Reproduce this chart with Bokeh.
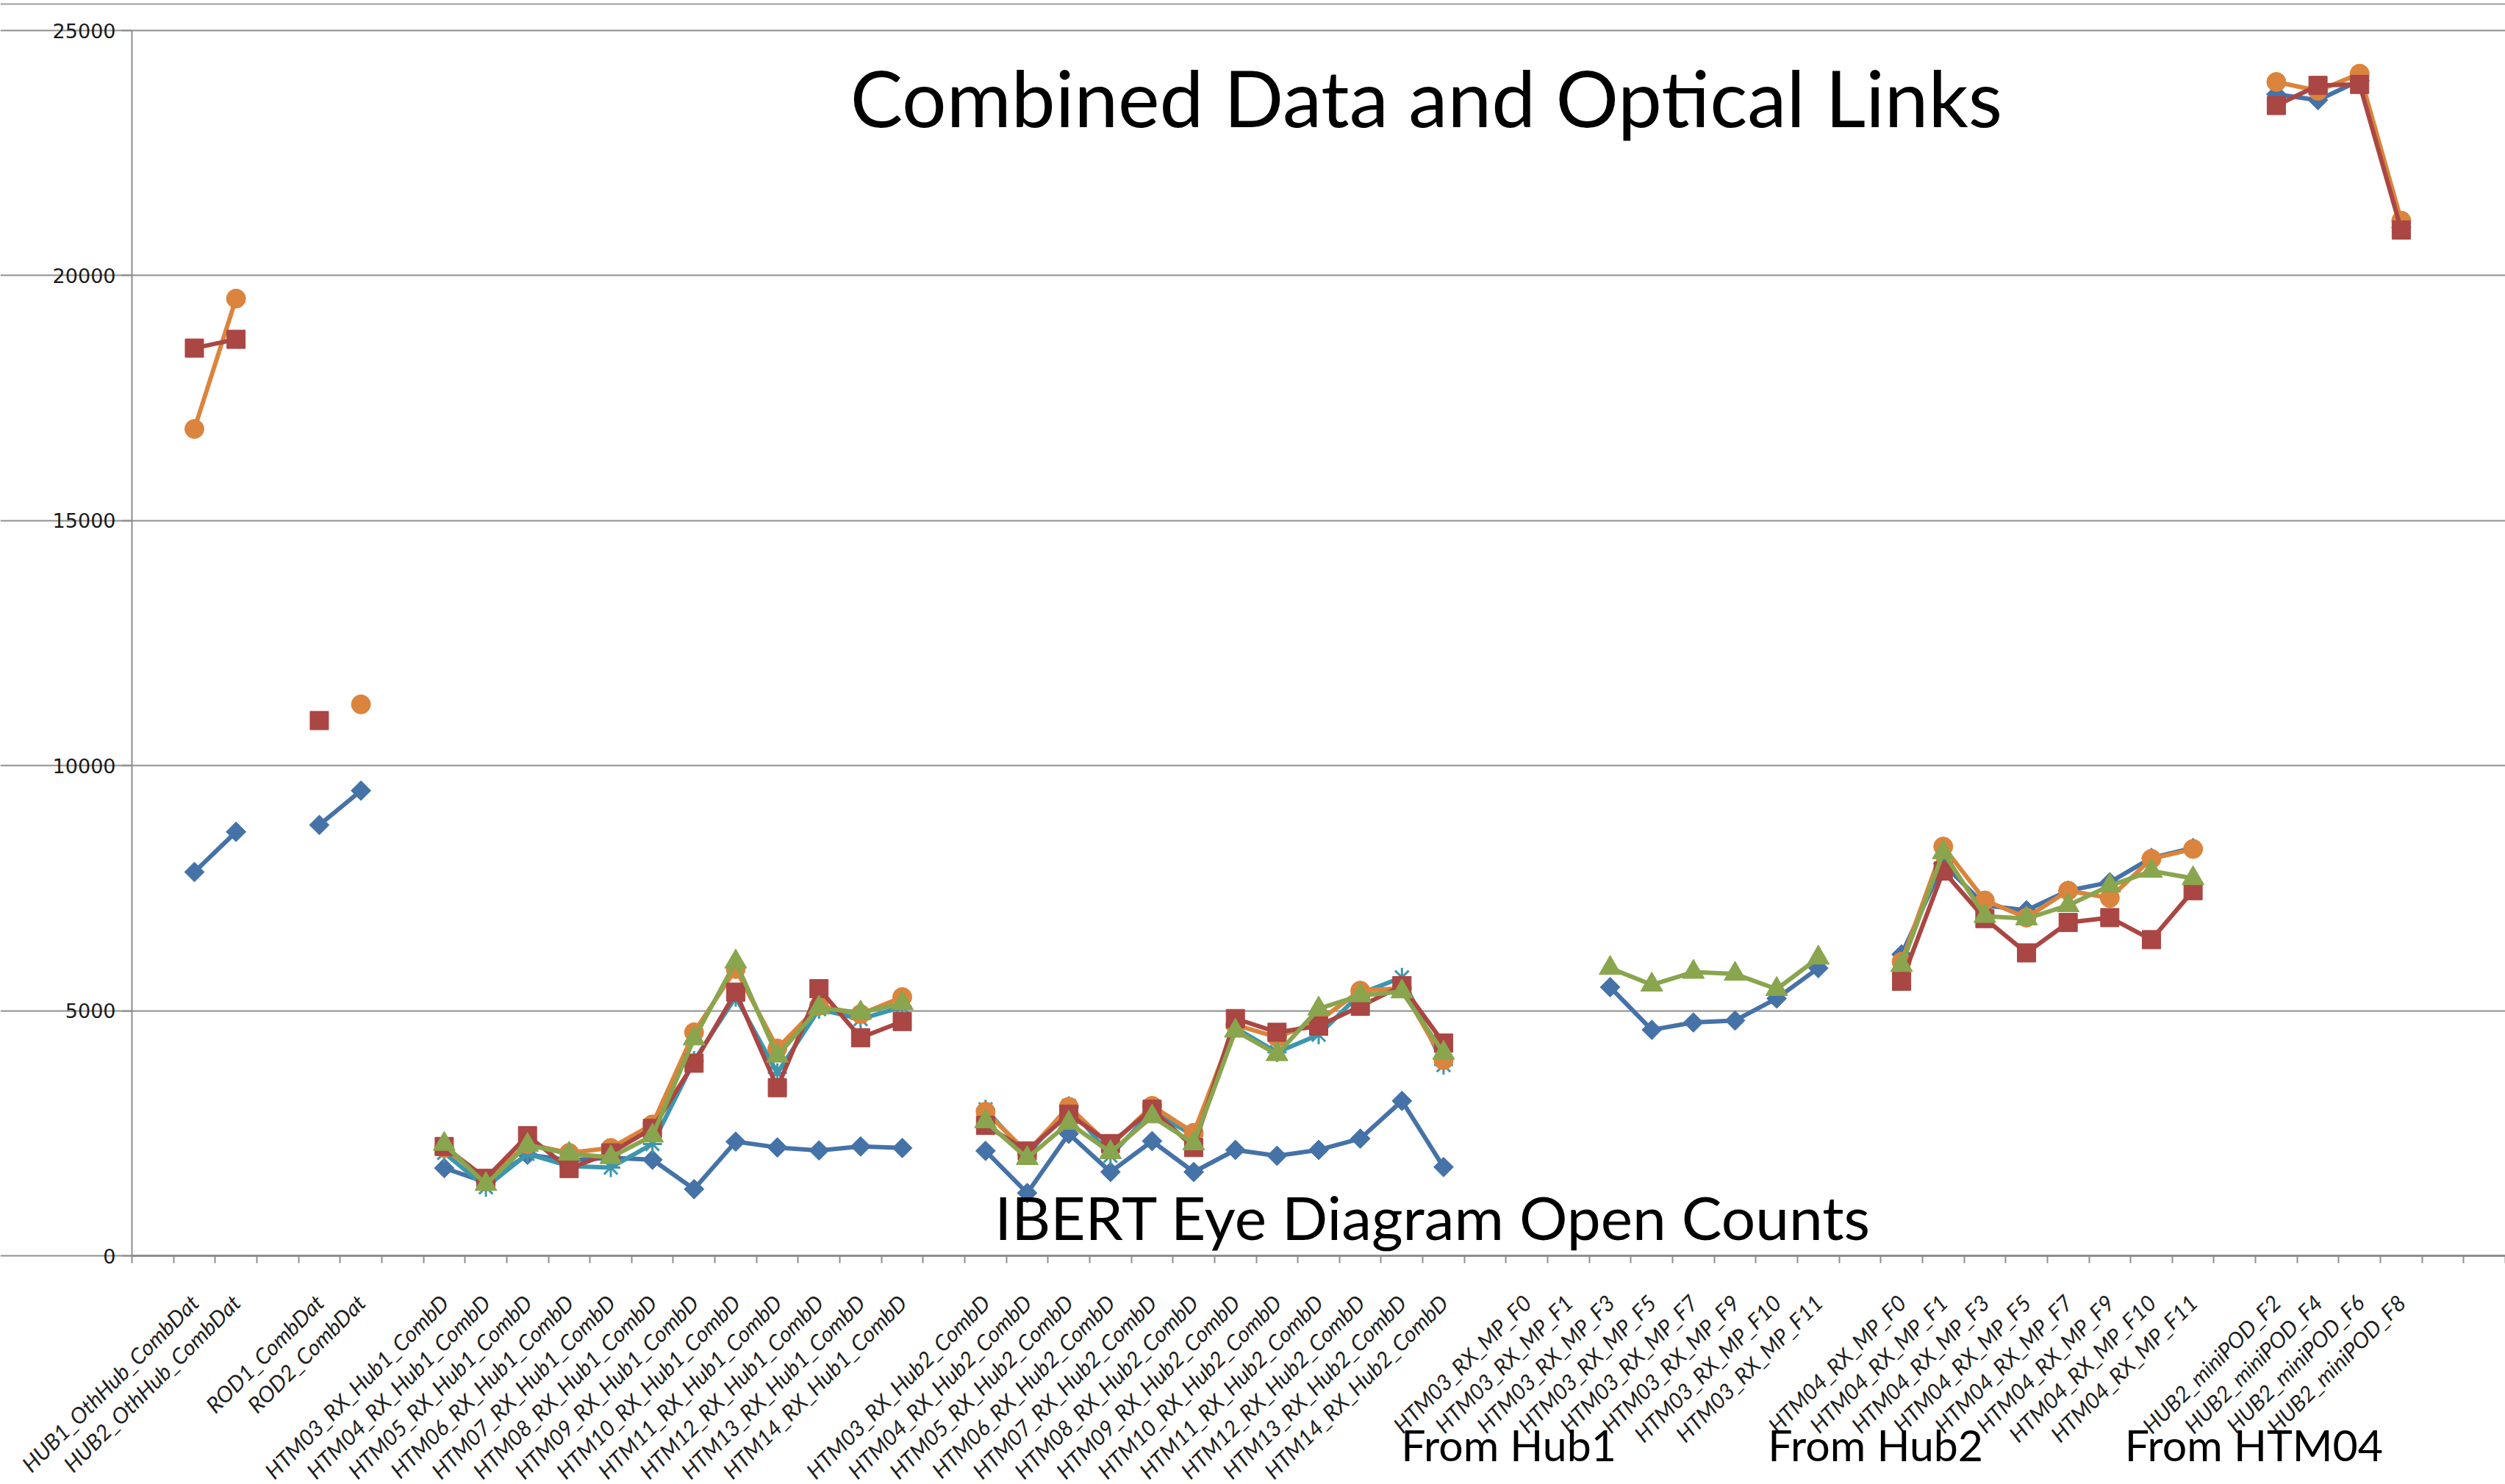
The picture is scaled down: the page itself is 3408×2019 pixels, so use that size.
import math
import numpy as np
from bokeh.plotting import figure
from bokeh.models import Range1d, FixedTicker, NumeralTickFormatter, Label, Span
from bokeh.embed import file_html
from bokeh.resources import INLINE

N = None

categories = [
    "",
    "HUB1_OthHub_CombDat", "HUB2_OthHub_CombDat",
    "",
    "ROD1_CombDat", "ROD2_CombDat",
    "",
    "HTM03_RX_Hub1_CombD", "HTM04_RX_Hub1_CombD", "HTM05_RX_Hub1_CombD", "HTM06_RX_Hub1_CombD",
    "HTM07_RX_Hub1_CombD", "HTM08_RX_Hub1_CombD", "HTM09_RX_Hub1_CombD", "HTM10_RX_Hub1_CombD",
    "HTM11_RX_Hub1_CombD", "HTM12_RX_Hub1_CombD", "HTM13_RX_Hub1_CombD", "HTM14_RX_Hub1_CombD",
    "",
    "HTM03_RX_Hub2_CombD", "HTM04_RX_Hub2_CombD", "HTM05_RX_Hub2_CombD", "HTM06_RX_Hub2_CombD",
    "HTM07_RX_Hub2_CombD", "HTM08_RX_Hub2_CombD", "HTM09_RX_Hub2_CombD", "HTM10_RX_Hub2_CombD",
    "HTM11_RX_Hub2_CombD", "HTM12_RX_Hub2_CombD", "HTM13_RX_Hub2_CombD", "HTM14_RX_Hub2_CombD",
    "",
    "HTM03_RX_MP_F0", "HTM03_RX_MP_F1", "HTM03_RX_MP_F3", "HTM03_RX_MP_F5",
    "HTM03_RX_MP_F7", "HTM03_RX_MP_F9", "HTM03_RX_MP_F10", "HTM03_RX_MP_F11",
    "",
    "HTM04_RX_MP_F0", "HTM04_RX_MP_F1", "HTM04_RX_MP_F3", "HTM04_RX_MP_F5",
    "HTM04_RX_MP_F7", "HTM04_RX_MP_F9", "HTM04_RX_MP_F10", "HTM04_RX_MP_F11",
    "",
    "HUB2_miniPOD_F2", "HUB2_miniPOD_F4", "HUB2_miniPOD_F6", "HUB2_miniPOD_F8",
    "", "",
]

series_blue = [
    N, 7830, 8650, N, 8790, 9490, N,
    1790, 1500, 2060, 1950, 2000, 1960, 1360, 2330, 2210, 2150, 2230, 2200,
    N,
    2140, 1280, 2490, 1710, 2340, 1710, 2160, 2040, 2160, 2390, 3160, 1810,
    N,
    N, N, 5480, 4610, 4760, 4800, 5250, 5870,
    N,
    6150, 8000, 7150, 7050, 7450, 7620, 8120, 8320,
    N,
    23700, 23580, 23980, 20980,
    N, N,
]

series_cyan = [
    N, N, N, N, N, N, N,
    2100, 1400, 2080, 1830, 1800, 2280, 3980, 5280, 3730, 5030, 4830, 5080,
    N,
    2990, 2050, 3060, 2040, 2950, 2450, 4650, 4150, 4510, 5350, 5680, 3890,
    N,
    N, N, N, N, N, N, N, N,
    N,
    N, N, N, N, N, N, N, N,
    N,
    N, N, N, N,
    N, N,
]

series_orange = [
    N, 16870, 19530, N, N, 11250, N,
    2200, 1550, 2280, 2100, 2200, 2680, 4560, 5850, 4230, 5100, 4930, 5280,
    N,
    2940, 2110, 3040, 2240, 3060, 2510, 4710, 4460, 4790, 5410, 5460, 3990,
    N,
    N, N, N, N, N, N, N, N,
    N,
    6000, 8350, 7250, 6900, 7450, 7300, 8100, 8300,
    N,
    23950, 23770, 24120, 21120,
    N, N,
]

series_red = [
    N, 18520, 18700, N, 10920, N, N,
    2230, 1580, 2450, 1780, 2100, 2600, 3930, 5380, 3430, 5450, 4450, 4780,
    N,
    2660, 2140, 2890, 2290, 2990, 2210, 4840, 4560, 4690, 5090, 5510, 4340,
    N,
    N, N, N, N, N, N, N, N,
    N,
    5600, 7850, 6880, 6180, 6800, 6900, 6450, 7450,
    N,
    23470, 23880, 23900, 20930,
    N, N,
]

series_green = [
    N, N, N, N, N, N, N,
    2280, 1460, 2260, 2080, 2010, 2450, 4430, 6000, 4080, 5060, 4960, 5150,
    N,
    2740, 1990, 2710, 2110, 2840, 2290, 4590, 4110, 5040, 5310, 5390, 4140,
    N,
    N, N, 5870, 5530, 5790, 5750, 5440, 6080,
    N,
    5930, 8230, 6930, 6880, 7150, 7550, 7850, 7700,
    N,
    N, N, N, N,
    N, N,
]

y_ticks = [0, 5000, 10000, 15000, 20000, 25000]

chart_title = "Combined Data and Optical Links"
sub_title = "IBERT Eye Diagram Open Counts"
group_notes = ["From Hub1", "From Hub2", "From HTM04"]

# ---------------------------------------------------------------------------
x = np.arange(len(categories), dtype=float)
x_lo, x_hi = -0.5, len(categories) - 0.5

# the frame fills the canvas; both axes are pinned inside it
p = figure(
    width=3408, height=2019,
    output_backend="svg", toolbar_location=None,
    x_range=Range1d(-3.66, x_hi),
    y_range=Range1d(-4664, 25615),
    min_border_left=0, min_border_right=0, min_border_top=0, min_border_bottom=0,
)
p.outline_line_color = None
p.background_fill_color = "white"
p.border_fill_color = "white"

GRID = "#8e8e8e"

# y axis
p.yaxis.fixed_location = x_lo
p.yaxis.ticker = FixedTicker(ticks=y_ticks)
p.yaxis.formatter = NumeralTickFormatter(format="0")
p.yaxis.bounds = (0, 25000)
p.yaxis.axis_line_color = GRID
p.yaxis.axis_line_width = 2
p.yaxis.major_tick_line_color = GRID
p.yaxis.major_tick_line_width = 2
p.yaxis.major_tick_out = 14
p.yaxis.major_tick_in = 0
p.yaxis.minor_tick_line_color = None
p.yaxis.major_label_standoff = 8
p.yaxis.major_label_text_font = "DejaVu Sans"
p.yaxis.major_label_text_font_size = "27px"
p.yaxis.major_label_text_color = "#1a1a1a"

# x axis: labels at category centres, ticks between categories
label_ticks = [i for i, c in enumerate(categories) if c]
p.xaxis.fixed_location = 0
p.xaxis.bounds = (x_lo, x_hi)
p.xaxis.ticker = FixedTicker(ticks=label_ticks,
                             minor_ticks=[i - 0.5 for i in range(len(categories) + 1)])
p.xaxis.major_label_overrides = {i: categories[i] for i in label_ticks}
p.xaxis.major_label_orientation = math.pi / 4
p.xaxis.axis_line_color = GRID
p.xaxis.axis_line_width = 3
p.xaxis.major_tick_out = 0
p.xaxis.major_tick_in = 0
p.xaxis.major_tick_line_color = None
p.xaxis.minor_tick_out = 10
p.xaxis.minor_tick_in = 0
p.xaxis.minor_tick_line_color = GRID
p.xaxis.minor_tick_line_width = 2
p.xaxis.major_label_standoff = 48
p.xaxis.major_label_text_font = "Lato"
p.xaxis.major_label_text_font_style = "italic"
p.xaxis.major_label_text_font_size = "30px"
p.xaxis.major_label_text_color = "#1f1f1f"

p.xgrid.visible = False
p.ygrid.grid_line_color = GRID
p.ygrid.grid_line_width = 2
p.ygrid.bounds = (x_lo, x_hi)

p.add_layout(Span(location=25540, dimension="width", line_color="#9d9d9d", line_width=2))

LW = 6
styles = [
    (series_blue, "#4572A7", dict(marker="square", angle=math.pi / 4, size=19)),
    (series_cyan, "#3D96AE", dict(marker="asterisk", size=26, line_width=3)),
    (series_orange, "#DB843D", dict(marker="circle", size=26)),
    (series_red, "#AA4643", dict(marker="square", size=25)),
    (series_green, "#89A54E", dict(marker="triangle", size=30)),
]
for vals, col, mk in styles:
    y = np.array(vals, dtype=float)
    p.line(x, y, line_color=col, line_width=LW, line_join="round")
    p.scatter(x, y, fill_color=col, line_color=col, **mk)

# texts
p.add_layout(Label(x=16.75, y=23650, text=chart_title, text_font="Lato",
                   text_font_size="107px", text_color="black",
                   text_align="left", text_baseline="alphabetic"))
p.add_layout(Label(x=20.22, y=795, text=sub_title, text_font="Lato",
                   text_font_size="82px", text_color="black",
                   text_align="left", text_baseline="alphabetic"))
for note, nx in zip(group_notes, [29.98, 38.79, 47.36]):
    p.add_layout(Label(x=nx, y=-3854, text=note, text_font="Lato",
                       text_font_size="59px", text_color="black",
                       text_align="left", text_baseline="alphabetic"))

open("out.html", "w").write(file_html(p, INLINE))
